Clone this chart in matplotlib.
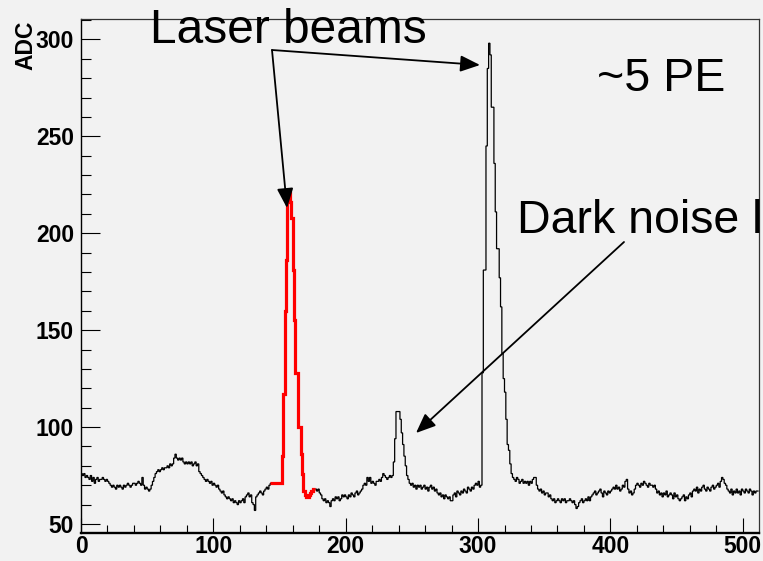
import numpy as np
import matplotlib
matplotlib.use('Agg')
import matplotlib.pyplot as plt
from matplotlib.patches import ArrowStyle
from matplotlib.ticker import MultipleLocator

# ADC value per sample (1 sample per bin, 0..511)
adc_counts = [
    76, 75, 76, 74, 75, 74, 73, 75, 72, 74, 71, 73, 74, 72, 73, 73,
    74, 73, 72, 73, 72, 71, 70, 69, 70, 69, 68, 70, 69, 70, 69, 68,
    70, 69, 70, 71, 70, 69, 70, 71, 71, 70, 71, 72, 71, 70, 74, 70,
    68, 69, 68, 67, 68, 70, 72, 74, 76, 77, 78, 77, 78, 79, 78, 79,
    79, 80, 79, 81, 80, 81, 84, 86, 84, 83, 84, 83, 84, 82, 81, 82,
    81, 82, 81, 82, 80, 81, 82, 80, 81, 77, 76, 75, 74, 73, 72, 73,
    72, 71, 72, 70, 71, 70, 69, 70, 68, 67, 66, 67, 65, 64, 63, 64,
    63, 62, 63, 61, 62, 61, 60, 62, 61, 62, 63, 61, 64, 65, 66, 64,
    65, 61, 60, 57, 64, 65, 66, 67, 66, 65, 67, 68, 69, 68, 70, 71,
    71, 71, 71, 71, 71, 71, 71, 71, 85, 117, 160, 186, 221, 221, 216, 208,
    181, 155, 128, 128, 100, 100, 86, 76, 67, 65, 64, 64, 65, 66, 67, 68,
    68, 68, 67, 68, 66, 65, 63, 62, 63, 61, 62, 61, 59, 62, 63, 62,
    64, 63, 64, 62, 63, 65, 64, 65, 64, 63, 65, 64, 66, 65, 64, 66,
    67, 65, 66, 67, 68, 70, 71, 70, 74, 72, 74, 71, 72, 71, 70, 72,
    72, 73, 72, 74, 76, 75, 74, 73, 74, 75, 74, 75, 82, 94, 108, 108,
    108, 104, 97, 91, 85, 80, 75, 73, 71, 70, 71, 69, 70, 68, 70, 69,
    70, 68, 69, 70, 68, 69, 67, 69, 70, 68, 69, 67, 68, 66, 65, 66,
    64, 65, 63, 65, 64, 63, 64, 62, 62, 65, 66, 64, 67, 66, 65, 67,
    66, 68, 67, 66, 69, 68, 67, 69, 68, 70, 71, 70, 72, 69, 70, 128,
    181, 181, 245, 285, 298, 292, 265, 265, 236, 211, 192, 192, 177, 162, 138, 125,
    118, 104, 91, 88, 81, 76, 74, 73, 72, 74, 73, 71, 72, 73, 71, 72,
    71, 72, 70, 72, 71, 73, 74, 74, 70, 68, 67, 68, 66, 67, 65, 66,
    66, 64, 65, 63, 62, 63, 61, 62, 63, 62, 61, 63, 62, 63, 61, 62,
    62, 63, 62, 61, 62, 60, 58, 59, 61, 62, 63, 61, 62, 63, 62, 64,
    62, 64, 65, 66, 67, 65, 66, 67, 68, 66, 64, 67, 66, 65, 67, 66,
    67, 68, 69, 68, 70, 68, 69, 67, 68, 70, 69, 72, 73, 68, 66, 67,
    65, 66, 68, 70, 71, 70, 69, 71, 70, 72, 71, 70, 69, 71, 70, 70,
    69, 70, 68, 66, 67, 65, 66, 64, 66, 65, 67, 64, 65, 66, 65, 63,
    66, 64, 65, 63, 62, 63, 64, 65, 62, 64, 63, 65, 66, 64, 67, 68,
    67, 69, 66, 68, 67, 69, 70, 68, 67, 69, 68, 67, 69, 70, 68, 69,
    70, 71, 69, 72, 74, 73, 71, 70, 68, 67, 66, 68, 65, 67, 66, 68,
    66, 67, 65, 68, 67, 66, 68, 67, 66, 68, 67, 65, 67, 66, 67, 67,
]
n_samples = 512
fit_start, fit_stop = 143, 177          # highlighted (red) sample range
x_major = [0, 100, 200, 300, 400, 500]
y_major = [50, 100, 150, 200, 250, 300]
x_limits = (0, 512)
y_limits = (45.2, 310.5)
y_label = "ADC"
label_laser = "Laser beams"
label_pe = "~5 PE"
label_dark = "Dark noise level"

BG = '#f2f2f2'
W, H = 763, 561
fig = plt.figure(figsize=(W / 100, H / 100), dpi=100, facecolor=BG)
ax = fig.add_axes([81 / W, 1 - 533.3 / H, (758.6 - 81) / W, (533.3 - 19) / H])
ax.set_facecolor(BG)

edges = np.arange(n_samples + 1)
vals = np.asarray(adc_counts, dtype=float)
ax.stairs(vals, edges, color='black', lw=0.9, baseline=None)
ax.stairs(vals[fit_start:fit_stop], edges[fit_start:fit_stop + 1],
          color='#ff0000', lw=2.3, baseline=None, zorder=3)

ax.set_xlim(*x_limits)
ax.set_ylim(*y_limits)
ax.set_xticks(x_major)
ax.set_yticks(y_major)
ax.xaxis.set_minor_locator(MultipleLocator(20))
ax.yaxis.set_minor_locator(MultipleLocator(10))

tickfont = dict(family='Liberation Sans', weight='bold', size=16.5)
ax.set_xticklabels([str(v) for v in x_major], fontdict=tickfont)
ax.set_yticklabels([str(v) for v in y_major], fontdict=tickfont)
ax.tick_params(axis='x', which='major', direction='in', length=10.8, width=0.8, pad=1.5)
ax.tick_params(axis='x', which='minor', direction='in', length=5.6, width=0.8)
ax.tick_params(axis='y', which='major', direction='in', length=13.7, width=0.8, pad=5)
ax.tick_params(axis='y', which='minor', direction='in', length=7.0, width=0.8)
ax.tick_params(top=False, right=False, which='both')

ax.spines['bottom'].set_linewidth(1.7)
ax.spines['left'].set_linewidth(1.0)
for s in ('top', 'right'):
    ax.spines[s].set_linewidth(0.9)
    ax.spines[s].set_color('#333333')

fig.text(25.5 / W, 1 - 45 / H, y_label, rotation=90, ha='center', va='center',
         family='Liberation Sans', weight='bold', size=16.5)

big = dict(family='Liberation Sans', color='black')
fig.text(150 / W, 1 - 42.7 / H, label_laser, ha='left', va='baseline', size=34.5, **big)
fig.text(597 / W, 1 - 90.7 / H, label_pe, ha='left', va='baseline', size=33.5, **big)
fig.text(517 / W, 1 - 233.3 / H, label_dark, ha='left', va='baseline', size=33.5, **big)

style = ArrowStyle('-|>', head_length=12, head_width=5)
def arrow(p0, p1):
    ax.annotate('', xy=(p1[0], H - p1[1]), xytext=(p0[0], H - p0[1]),
                xycoords='figure pixels', textcoords='figure pixels',
                arrowprops=dict(arrowstyle=style, mutation_scale=1, lw=1.3,
                                color='black', shrinkA=0, shrinkB=0),
                annotation_clip=False, zorder=5)

arrow((272, 50), (287, 208))
arrow((272, 50), (480, 65))
arrow((624, 242), (416, 433))

fig.savefig('out.png', dpi=100, facecolor=BG)
